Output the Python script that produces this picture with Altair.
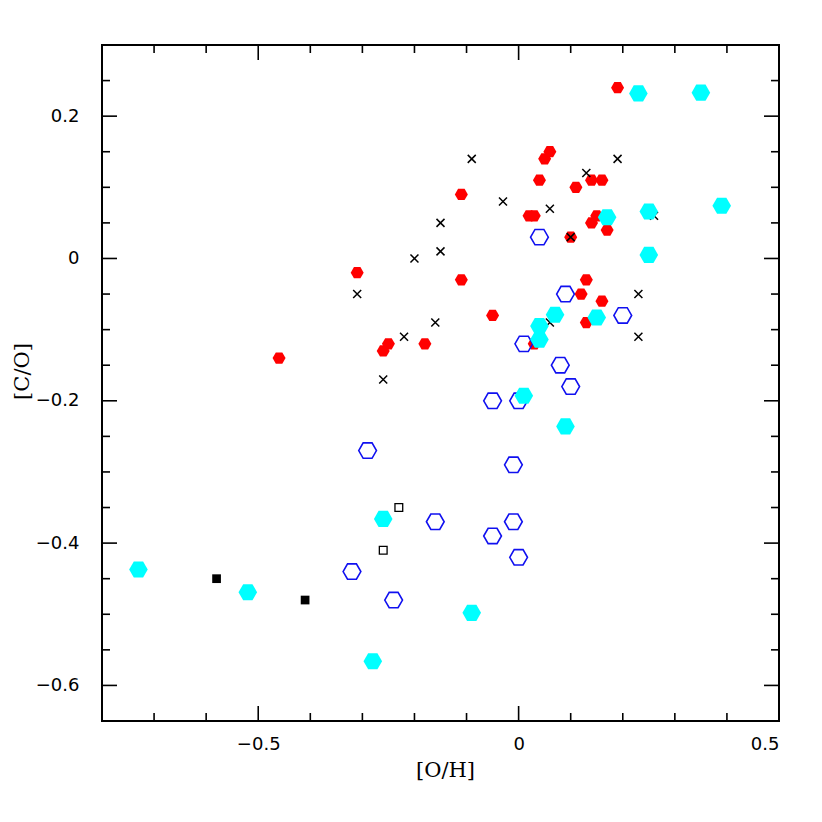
import altair as alt
import pandas as pd

# ---- data ([O/H], [C/O]) ----
red_x = [-0.46, -0.31, -0.26, -0.25, -0.18, -0.11, -0.11, -0.05, 0.02, 0.03, 0.04, 0.05, 0.06,
         0.11, 0.10, 0.14, 0.16, 0.14, 0.15, 0.17, 0.19, 0.13, 0.12, 0.16, 0.13, 0.03]
red_y = [-0.14, -0.02, -0.13, -0.12, -0.12, -0.03, 0.09, -0.08, 0.06, 0.06, 0.11, 0.14, 0.15,
         0.10, 0.03, 0.11, 0.11, 0.05, 0.06, 0.04, 0.24, -0.03, -0.05, -0.06, -0.09, -0.12]

cross_x = [-0.31, -0.26, -0.22, -0.20, -0.16, -0.15, -0.15, -0.09, -0.03, 0.06, 0.10, 0.13,
           0.19, 0.23, 0.23, 0.06, 0.26]
cross_y = [-0.05, -0.17, -0.11, 0.00, -0.09, 0.05, 0.01, 0.14, 0.08, 0.07, 0.03, 0.12,
           0.14, -0.05, -0.11, -0.09, 0.06]

blue_x = [0.04, 0.09, 0.20, 0.01, 0.08, 0.10, -0.05, 0.00, -0.29, -0.01, -0.16, -0.01,
          -0.05, 0.00, -0.32, -0.24]
blue_y = [0.03, -0.05, -0.08, -0.12, -0.15, -0.18, -0.20, -0.20, -0.27, -0.29, -0.37, -0.37,
          -0.39, -0.42, -0.44, -0.48]

cyan_x = [0.23, 0.35, 0.39, 0.25, 0.17, 0.25, 0.07, 0.15, 0.04, 0.04, 0.01, 0.09, -0.26,
          -0.09, -0.28, -0.73, -0.52]
cyan_y = [0.232, 0.233, 0.074, 0.066, 0.058, 0.005, -0.079, -0.083, -0.095, -0.114, -0.193,
          -0.236, -0.366, -0.498, -0.566, -0.437, -0.469]

sqf_x = [-0.58, -0.41]
sqf_y = [-0.45, -0.48]
sqo_x = [-0.23, -0.26]
sqo_y = [-0.35, -0.41]

x_major = [-0.5, 0.0, 0.5]
x_minor = [-0.7, -0.6, -0.4, -0.3, -0.2, -0.1, 0.1, 0.2, 0.3, 0.4]
y_major = [-0.6, -0.4, -0.2, 0.0, 0.2]
y_minor = [-0.55, -0.5, -0.45, -0.35, -0.3, -0.25, -0.15, -0.1, -0.05, 0.05, 0.1, 0.15, 0.25]

W, H = 677, 676
XDOM = [-0.8, 0.5]
YDOM = [-0.65, 0.3]

HEX = "M-1,0L-0.5,-0.866L0.5,-0.866L1,0L0.5,0.866L-0.5,0.866Z"
CROSS = "M-1,-1L1,1M1,-1L-1,1"

xs = alt.Scale(domain=XDOM, nice=False, zero=False)
ys = alt.Scale(domain=YDOM, nice=False, zero=False)


def df(xv, yv):
    return pd.DataFrame({"x": xv, "y": yv})


lab_expr = "datum.value == 0 ? '0' : format(datum.value, '.1f')"

x_axis = alt.Axis(values=x_major, labelExpr=lab_expr, ticks=False, domain=False, grid=False,
                  labelFont="DejaVu Sans", labelFontSize=18, labelColor="black",
                  labelPadding=14, title="[O/H]", titleFont="DejaVu Serif",
                  titleFontSize=21, titleFontWeight="normal", titleColor="black",
                  titlePadding=6, titleX=343)
y_axis = alt.Axis(values=y_major, labelExpr=lab_expr, ticks=False, domain=False, grid=False,
                  labelFont="DejaVu Sans", labelFontSize=18, labelColor="black",
                  labelPadding=23, title="[C/O]", titleFont="DejaVu Serif",
                  titleFontSize=21, titleFontWeight="normal", titleColor="black",
                  titleX=-70, titleY=326)

XE = alt.X("x:Q", scale=xs, axis=x_axis)
YE = alt.Y("y:Q", scale=ys, axis=y_axis)

red = alt.Chart(df(red_x, red_y)).mark_point(
    shape=HEX, filled=True, color="#ff0000", size=169, opacity=1, strokeWidth=0
).encode(x=XE, y=YE)

crosses = alt.Chart(df(cross_x, cross_y)).mark_point(
    shape=CROSS, filled=False, color="black", size=64, opacity=1, strokeWidth=1.5
).encode(x=XE, y=YE)

blue = alt.Chart(df(blue_x, blue_y)).mark_point(
    shape=HEX, filled=False, color="#1010f0", size=315, opacity=1, strokeWidth=1.6
).encode(x=XE, y=YE)

cyan = alt.Chart(df(cyan_x, cyan_y)).mark_point(
    shape=HEX, filled=True, color="#00ffff", size=346, opacity=1, strokeWidth=0
).encode(x=XE, y=YE)

sqf = alt.Chart(df(sqf_x, sqf_y)).mark_point(
    shape="square", filled=True, color="black", size=76, opacity=1, strokeWidth=0
).encode(x=XE, y=YE)

sqo = alt.Chart(df(sqo_x, sqo_y)).mark_point(
    shape="square", filled=False, color="black", size=60, opacity=1, strokeWidth=1.3
).encode(x=XE, y=YE)


def xticks(vals, length):
    d = pd.DataFrame({"x": vals})
    base = alt.Chart(d).mark_rule(color="black", strokeWidth=1.6)
    bottom = base.encode(x=XE, y=alt.value(H), y2=alt.value(H - length))
    top = base.encode(x=XE, y=alt.value(0), y2=alt.value(length))
    return [bottom, top]


def yticks(vals, length):
    d = pd.DataFrame({"y": vals})
    base = alt.Chart(d).mark_rule(color="black", strokeWidth=1.6)
    left = base.encode(y=YE, x=alt.value(0), x2=alt.value(length))
    right = base.encode(y=YE, x=alt.value(W), x2=alt.value(W - length))
    return [left, right]


ticks = xticks(x_major, 15) + xticks(x_minor, 8) + yticks(y_major, 15) + yticks(y_minor, 8)

chart = alt.layer(red, crosses, blue, cyan, sqf, sqo, *ticks).properties(
    width=W, height=H,
    background="white",
    autosize=alt.AutoSizeParams(type="none"),
    padding={"left": 94, "top": 37, "right": 30, "bottom": 90},
).configure_view(stroke="black", strokeWidth=2)

chart.save("out.html", embed_options={"renderer": "svg", "actions": False})
